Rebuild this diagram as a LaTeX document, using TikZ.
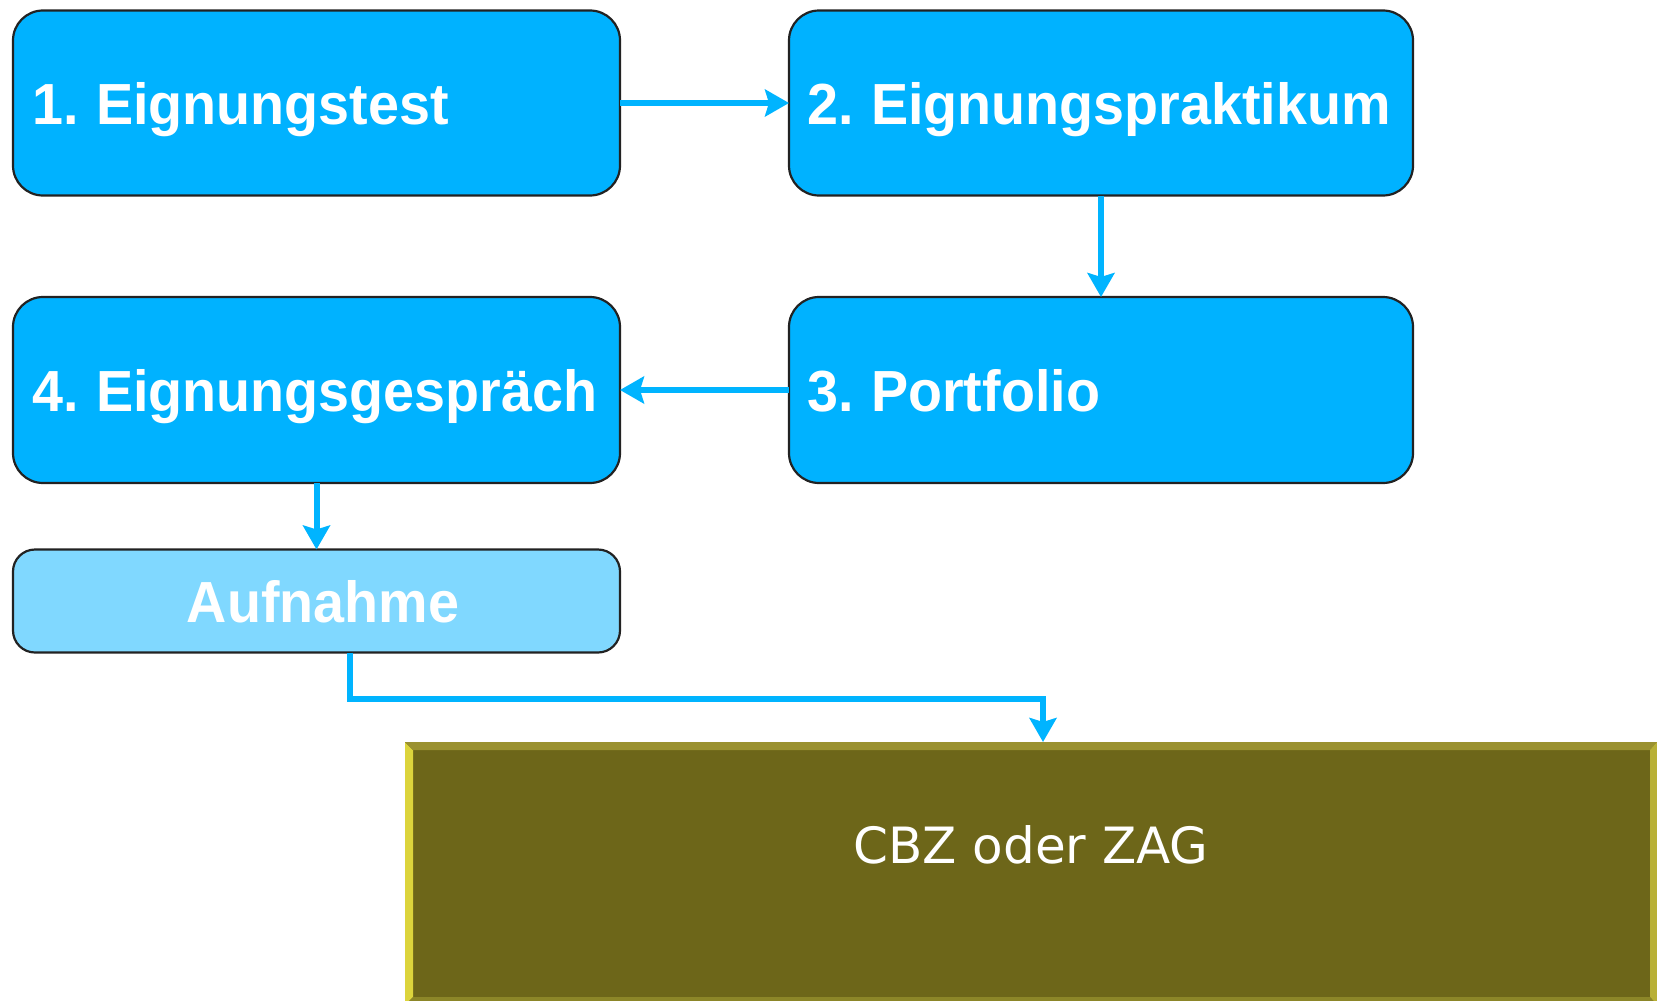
\documentclass[tikz,border=0pt]{standalone}
\usepackage{fontspec}
\usetikzlibrary{arrows.meta}
\newfontfamily\boxfont[FakeStretch=0.96,WordSpace=0.8]{Liberation Sans}
\newfontfamily\cbzfont{DejaVu Sans}
\definecolor{boxblue}{HTML}{00B2FF}
\definecolor{lightblue}{HTML}{80D8FF}
\definecolor{arrowblue}{HTML}{00B4FF}
\definecolor{edgegray}{HTML}{222222}
\definecolor{olivefill}{HTML}{6D6619}
\definecolor{bevelleft}{HTML}{DCD43C}
\definecolor{beveltop}{HTML}{9A9130}
\definecolor{bevelright}{HTML}{B8B036}
\definecolor{bevelbottom}{HTML}{8C8628}
\begin{document}
\begin{tikzpicture}[x=1pt,y=-1pt,
  stepbox/.style={draw=edgegray, line width=2.2pt, rounded corners=30pt, fill=boxblue, inner sep=0pt, outer sep=0pt},
  boxtext/.style={text=white, font=\boxfont\bfseries\fontsize{58}{60}\selectfont, inner sep=0pt, anchor=base west},
  arr/.style={draw=arrowblue, line width=6pt, -{Stealth[length=24pt,width=27pt,inset=4pt]}}
]
\useasboundingbox (0,0) rectangle (1657,1001);
% boxes
\node[stepbox, minimum width=607pt, minimum height=185pt] (b1) at (316.5,103) {};
\node[stepbox, minimum width=624pt, minimum height=185pt] (b2) at (1101,103) {};
\node[stepbox, minimum width=624pt, minimum height=186pt] (b3) at (1101,390) {};
\node[stepbox, minimum width=607pt, minimum height=186pt] (b4) at (316.5,390) {};
\node[stepbox, fill=lightblue, minimum width=607pt, minimum height=103pt, rounded corners=22pt] (auf) at (316.5,601) {};
% texts
\node[boxtext] (t1) at (32,124.5) {1. Eignungstest};
\node[boxtext] (t2) at (807,124.5) {2. Eignungspraktikum};
\node[boxtext] (t3) at (807,411) {3. Portfolio};
\node[boxtext] (t4) at (32,411) {4. Eignungsgespräch};
\node[boxtext, anchor=base] (t5) at (323,622) {Aufnahme};
% CBZ box with bevel
\node[fill=olivefill, inner sep=0pt, outer sep=0pt, minimum width=1252pt, minimum height=263pt] (cbz) at (1031,873.5) {};
\fill[bevelleft] (405,742) -- (413,750) -- (413,997) -- (405,1005) -- cycle;
\fill[beveltop] (405,742) -- (1657,742) -- (1650,750) -- (413,750) -- cycle;
\fill[bevelright] (1657,742) -- (1657,1005) -- (1650,997) -- (1650,750) -- cycle;
\fill[bevelbottom] (405,1005) -- (1657,1005) -- (1650,997) -- (413,997) -- cycle;
\node[text=white, font=\cbzfont\fontsize{50}{52}\selectfont, inner sep=0pt, anchor=base] (t6) at (1031,863) {CBZ oder ZAG};
% connectors
\draw[arr] (b1.east) -- (b2.west);
\draw[arr] (b2.south) -- (b3.north);
\draw[arr] (b3.west) -- (b4.east);
\draw[arr] (b4.south) -- (auf.north);
\coordinate (k1) at (1043,699);
\draw[arr] ([xshift=33.5pt]auf.south) |- (k1) -- (k1 |- cbz.north);
\end{tikzpicture}
\end{document}
